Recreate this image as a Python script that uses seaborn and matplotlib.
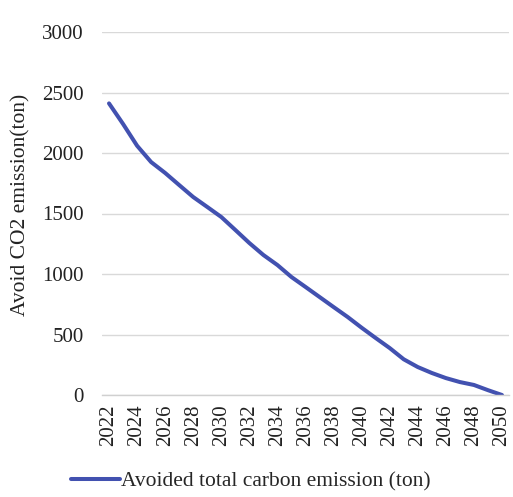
import matplotlib
matplotlib.use("Agg")
import matplotlib.pyplot as plt
import seaborn as sns
import pandas as pd

years = list(range(2022, 2051))
avoided_co2 = [2410, 2240, 2060, 1925, 1835, 1735, 1636, 1554, 1471, 1364,
               1256, 1157, 1074, 975, 893, 810, 727, 645, 556, 471,
               388, 295, 231, 182, 140, 107, 83, 40, 0]
series_label = "Avoided total carbon emission (ton)"
y_ticks = [0, 500, 1000, 1500, 2000, 2500, 3000]
x_ticks = list(range(2022, 2051, 2))

df = pd.DataFrame({"year": years, "co2": avoided_co2})

sns.set_style("white")
plt.rcParams["font.family"] = ["Liberation Serif", "DejaVu Serif"]

W, H = 513, 497
fig = plt.figure(figsize=(W / 100, H / 100), dpi=100)
ax = fig.add_axes([102 / W, 1 - 395 / H, 407 / W, 363 / H])

sns.lineplot(data=df, x="year", y="co2", ax=ax, color="#4251b0",
             linewidth=2.9, label=series_label, legend=False,
             solid_joinstyle="round", solid_capstyle="round")

ax.set_ylim(0, 3000)
ax.set_xlim(2021.5, 2050.5)
ax.set_yticks(y_ticks)
ax.set_xticks(x_ticks)
ax.set_xticklabels([str(x) for x in x_ticks], rotation=90)
ax.tick_params(axis="both", length=0, labelsize=15, colors="#222222")
ax.tick_params(axis="y", pad=13)
ax.tick_params(axis="x", pad=7)

ax.grid(axis="y", color="#d9d9d9", linewidth=1.0)
ax.grid(axis="x", visible=False)
for side in ["top", "right", "left"]:
    ax.spines[side].set_visible(False)
ax.spines["bottom"].set_color("#d0d0d0")
ax.spines["bottom"].set_linewidth(1.0)

ax.set_xlabel("")
ax.set_ylabel("Avoid CO2 emission(ton)", fontsize=15.5, color="#222222")
ax.yaxis.set_label_coords((30 - 102) / 407, (395 - 205) / 363)

handles, labels = ax.get_legend_handles_labels()
fig.legend(handles, labels, loc="center", bbox_to_anchor=(251 / W, 1 - 481 / H),
           frameon=False, fontsize=15.5, handlelength=2.3, handletextpad=0.05,
           borderpad=0, borderaxespad=0)

fig.savefig("out.png", dpi=100, facecolor="white")
